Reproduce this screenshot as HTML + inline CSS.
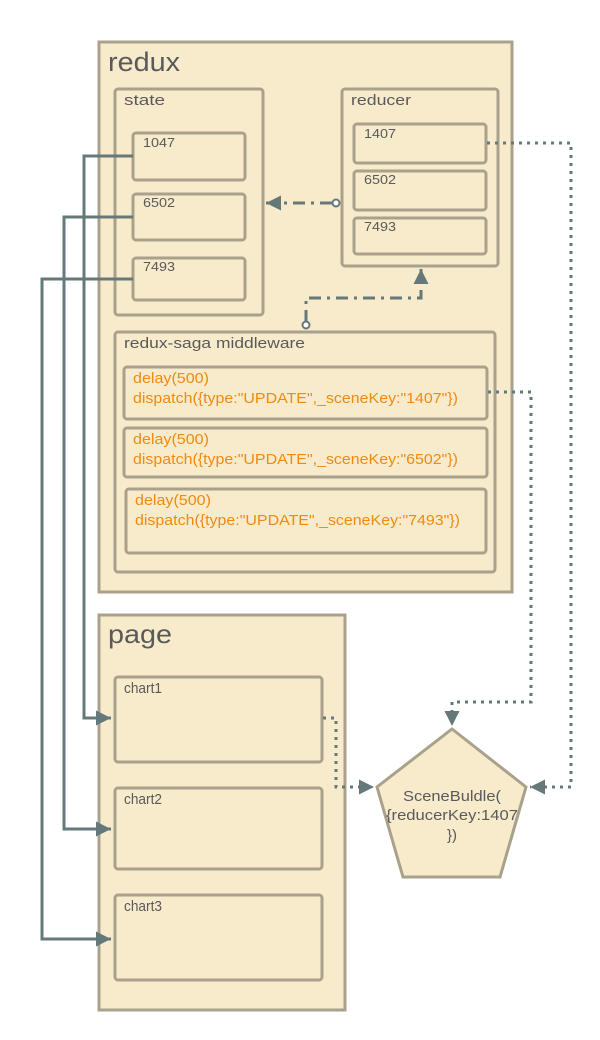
<!DOCTYPE html>
<html><head><meta charset="utf-8"><style>
html,body{margin:0;padding:0;background:#fff;}
svg{display:block;}
text{font-family:"Liberation Sans",sans-serif;}
</style></head><body>
<svg width="600" height="1040" viewBox="0 0 600 1040" xmlns="http://www.w3.org/2000/svg">
<defs>
<marker id="a" viewBox="0 0 10 10" refX="10" refY="5" markerWidth="5" markerHeight="5" orient="auto"><path d="M0,0L10,5L0,10z" fill="#66797a"/></marker>
</defs>
<g fill="#f7ebcc" stroke="#a9a18b" stroke-width="3">
<rect x="99" y="42" width="413" height="550"/>
<rect x="115" y="89" width="148" height="226" rx="3"/>
<rect x="133" y="133" width="112" height="47" rx="3"/>
<rect x="133" y="194" width="112" height="46" rx="3"/>
<rect x="133" y="258" width="112" height="42" rx="3"/>
<rect x="342" y="89" width="156" height="177" rx="3"/>
<rect x="354" y="124" width="132" height="39" rx="3"/>
<rect x="354" y="171" width="132" height="39" rx="3"/>
<rect x="354" y="218" width="132" height="36" rx="3"/>
<rect x="115" y="332" width="380" height="240" rx="3"/>
<rect x="124" y="367" width="363" height="52" rx="3"/>
<rect x="124" y="428" width="363" height="49" rx="3"/>
<rect x="126" y="489" width="360" height="64" rx="3"/>
<rect x="99" y="615" width="246" height="395"/>
<rect x="115" y="677" width="207" height="85" rx="3"/>
<rect x="115" y="788" width="207" height="81" rx="3"/>
<rect x="115" y="895" width="207" height="85" rx="3"/>
<polygon points="452,729 526,787 500,877 403,877 377,787"/>
</g>
<g fill="#5a5a5a" lengthAdjust="spacingAndGlyphs">
<text x="108" y="71" font-size="27" textLength="72" lengthAdjust="spacingAndGlyphs">redux</text>
<text x="124" y="105" font-size="15" textLength="41" lengthAdjust="spacingAndGlyphs">state</text>
<text x="351" y="105" font-size="15" textLength="60" lengthAdjust="spacingAndGlyphs">reducer</text>
<text x="143" y="147" font-size="13" textLength="32" lengthAdjust="spacingAndGlyphs">1047</text>
<text x="143" y="207" font-size="13" textLength="32" lengthAdjust="spacingAndGlyphs">6502</text>
<text x="143" y="271" font-size="13" textLength="32" lengthAdjust="spacingAndGlyphs">7493</text>
<text x="364" y="138" font-size="13" textLength="32" lengthAdjust="spacingAndGlyphs">1407</text>
<text x="364" y="184" font-size="13" textLength="32" lengthAdjust="spacingAndGlyphs">6502</text>
<text x="364" y="231" font-size="13" textLength="32" lengthAdjust="spacingAndGlyphs">7493</text>
<text x="124" y="348" font-size="15" textLength="181" lengthAdjust="spacingAndGlyphs">redux-saga middleware</text>
<text x="108" y="643" font-size="26" textLength="64" lengthAdjust="spacingAndGlyphs">page</text>
<text x="124" y="693" font-size="15" textLength="38" lengthAdjust="spacingAndGlyphs">chart1</text>
<text x="124" y="804" font-size="15" textLength="38" lengthAdjust="spacingAndGlyphs">chart2</text>
<text x="124" y="911" font-size="15" textLength="38" lengthAdjust="spacingAndGlyphs">chart3</text>
<text x="452" y="801" font-size="15" text-anchor="middle" textLength="98" lengthAdjust="spacingAndGlyphs">SceneBuldle(</text>
<text x="452" y="820" font-size="15" text-anchor="middle" textLength="132" lengthAdjust="spacingAndGlyphs">{reducerKey:1407</text>
<text x="452" y="840" font-size="15" text-anchor="middle">})</text>
</g>
<g fill="#f08a10" font-size="15">
<text x="133" y="383" textLength="76" lengthAdjust="spacingAndGlyphs">delay(500)</text>
<text x="133" y="403" textLength="325" lengthAdjust="spacingAndGlyphs">dispatch({type:"UPDATE",_sceneKey:"1407"})</text>
<text x="133" y="444" textLength="76" lengthAdjust="spacingAndGlyphs">delay(500)</text>
<text x="133" y="464" textLength="325" lengthAdjust="spacingAndGlyphs">dispatch({type:"UPDATE",_sceneKey:"6502"})</text>
<text x="135" y="505" textLength="76" lengthAdjust="spacingAndGlyphs">delay(500)</text>
<text x="135" y="525" textLength="325" lengthAdjust="spacingAndGlyphs">dispatch({type:"UPDATE",_sceneKey:"7493"})</text>
</g>
<g fill="none" stroke="#66797a" stroke-width="3">
<polyline points="133,156 84,156 84,718 111,718" marker-end="url(#a)"/>
<polyline points="133,217 64,217 64,829 111,829" marker-end="url(#a)"/>
<polyline points="133,279 42,279 42,939 111,939" marker-end="url(#a)"/>
<line x1="332" y1="203" x2="266" y2="203" stroke-dasharray="12,6,3,6" marker-end="url(#a)"/>
<polyline points="306,322 306,298 421,298 421,269" stroke-dasharray="12,6,3,6" marker-end="url(#a)"/>
</g>
<g fill="#fff" stroke="#66797a" stroke-width="2">
<circle cx="336" cy="203" r="3.5"/>
<circle cx="306" cy="325" r="3.5"/>
</g>
<g fill="none" stroke="#66797a" stroke-width="3" stroke-dasharray="3,5">
<polyline points="487,143 571,143 571,787 530,787" marker-end="url(#a)"/>
<polyline points="488,392 531,392 531,702 452,702 452,726" marker-end="url(#a)"/>
<polyline points="323,718 336,718 336,787 374,787" marker-end="url(#a)"/>
</g>
</svg>
</body></html>
